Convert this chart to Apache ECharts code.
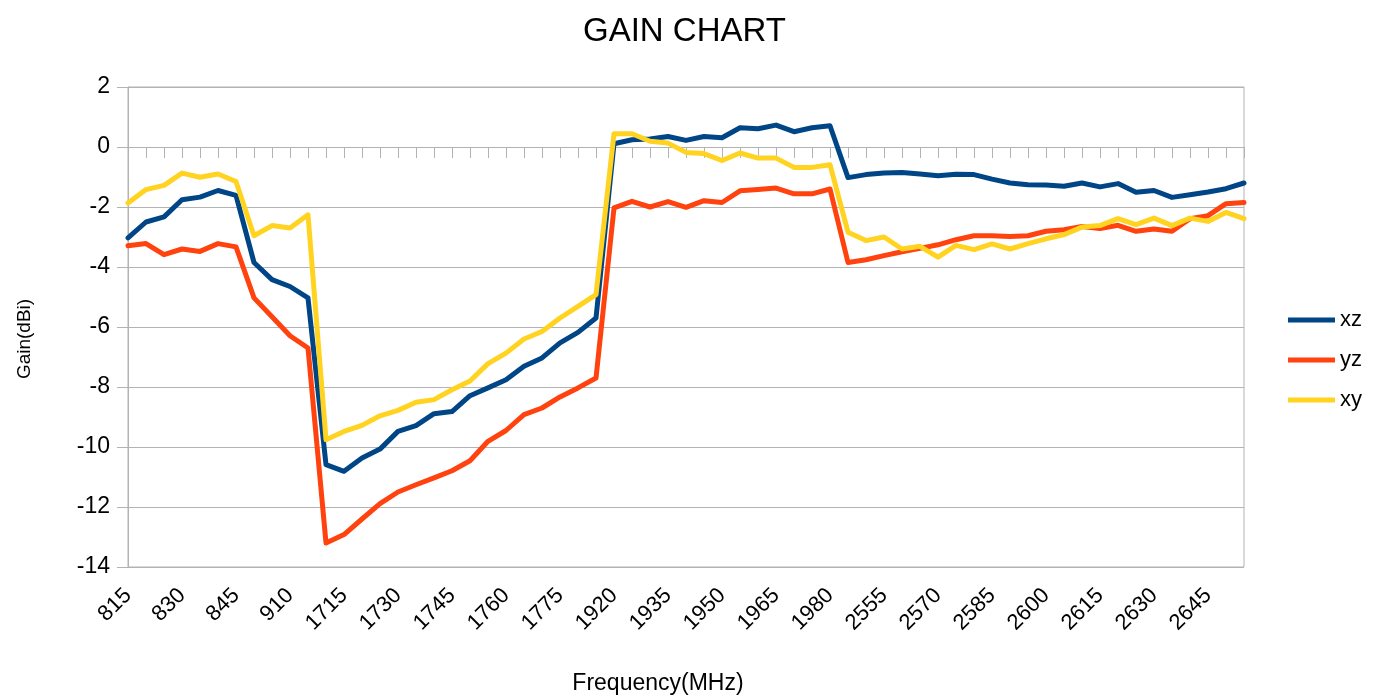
<!DOCTYPE html>
<html>
<head>
<meta charset="utf-8">
<title>GAIN CHART</title>
<script src="https://cdn.jsdelivr.net/npm/echarts@6/dist/echarts.min.js"></script>
<style>
    html, body { margin: 0; padding: 0; background: #fff; }
    #chart { width: 1383px; height: 697px; }
</style>
</head>
<body>
<div id="chart"></div>
<script>
// frequencies (MHz), one per measured point
const freqs = [
    '815', '820', '825', '830', '835', '840', '845', '900', '905', '910', '915',
    '1710', '1715', '1720', '1725', '1730', '1735', '1740', '1745', '1750', '1755',
    '1760', '1765', '1770', '1775', '1780', '1785',
    '1920', '1925', '1930', '1935', '1940', '1945', '1950', '1955', '1960', '1965',
    '1970', '1975', '1980',
    '2545', '2550', '2555', '2560', '2565', '2570', '2575', '2580', '2585', '2590',
    '2595', '2600', '2605', '2610', '2615', '2620', '2625', '2630', '2635', '2640',
    '2645', '2650', '2655'
];

const xz = [
    -3.03, -2.50, -2.33, -1.76, -1.67, -1.45, -1.61, -3.85, -4.42, -4.65, -5.03,
    -10.59, -10.81, -10.37, -10.07, -9.48, -9.29, -8.89, -8.82, -8.29, -8.03,
    -7.76, -7.31, -7.03, -6.53, -6.18, -5.70,
    0.11, 0.24, 0.27, 0.35, 0.22, 0.35, 0.31, 0.64, 0.61, 0.73,
    0.51, 0.64, 0.71,
    -1.02, -0.92, -0.87, -0.85, -0.90, -0.96, -0.91, -0.92, -1.07, -1.20,
    -1.26, -1.27, -1.31, -1.20, -1.33, -1.22, -1.51, -1.45, -1.68, -1.59,
    -1.50, -1.39, -1.20
];

const yz = [
    -3.29, -3.22, -3.59, -3.40, -3.48, -3.22, -3.33, -5.03, -5.66, -6.29, -6.70,
    -13.20, -12.92, -12.40, -11.89, -11.50, -11.26, -11.03, -10.79, -10.46, -9.81,
    -9.45, -8.92, -8.70, -8.33, -8.03, -7.70,
    -2.03, -1.81, -2.00, -1.82, -2.01, -1.79, -1.85, -1.46, -1.42, -1.37,
    -1.56, -1.56, -1.40,
    -3.85, -3.76, -3.62, -3.49, -3.38, -3.26, -3.09, -2.96, -2.96, -2.98,
    -2.96, -2.81, -2.76, -2.65, -2.72, -2.61, -2.81, -2.73, -2.81, -2.39,
    -2.29, -1.89, -1.85
];

const xy = [
    -1.87, -1.42, -1.28, -0.87, -1.01, -0.90, -1.15, -2.96, -2.62, -2.70, -2.26,
    -9.76, -9.48, -9.28, -8.96, -8.78, -8.51, -8.42, -8.09, -7.80, -7.22,
    -6.87, -6.40, -6.15, -5.70, -5.31, -4.92,
    0.44, 0.44, 0.19, 0.13, -0.18, -0.22, -0.45, -0.20, -0.37, -0.37,
    -0.68, -0.68, -0.59,
    -2.84, -3.12, -3.00, -3.40, -3.31, -3.67, -3.28, -3.42, -3.23, -3.40,
    -3.22, -3.06, -2.92, -2.67, -2.62, -2.39, -2.59, -2.37, -2.62, -2.37,
    -2.48, -2.18, -2.39
];

const seriesNames = ['xz', 'yz', 'xy'];
const colors = ['#004586', '#ff420e', '#ffd320'];

const FONT = '"Liberation Sans", Arial, sans-serif';
const GRID_COLOR = '#b3b3b3';

const chart = echarts.init(document.getElementById('chart'));

function lineSeries(name, data) {
    return {
        name: name,
        type: 'line',
        data: data,
        symbol: 'none',
        smooth: false,
        lineStyle: { width: 5, cap: 'round', join: 'round' }
    };
}

const option = {
    backgroundColor: '#fff',
    color: colors,
    animation: false,
    textStyle: { fontFamily: FONT },
    title: {
        text: 'GAIN CHART',
        left: 578,
        top: 10,
        textStyle: { fontFamily: FONT, fontSize: 33, fontWeight: 'normal', color: '#000' }
    },
    legend: {
        orient: 'vertical',
        left: 1283,
        top: 304,
        icon: 'rect',
        itemWidth: 47,
        itemHeight: 5,
        itemGap: 18,
        data: seriesNames,
        textStyle: { fontFamily: FONT, fontSize: 22, lineHeight: 22, color: '#000' }
    },
    grid: {
        left: 128,
        right: 139,
        top: 87,
        bottom: 130,
        outerBoundsMode: 'none',
        show: true,
        borderColor: GRID_COLOR,
        borderWidth: 1,
        backgroundColor: 'transparent'
    },
    xAxis: [
        {
            // sits on the zero line, only draws the short ticks
            type: 'category',
            data: freqs,
            position: 'top',
            boundaryGap: false,
            axisLine: { show: true, onZero: true, lineStyle: { color: GRID_COLOR, width: 1 } },
            axisTick: { show: true, inside: true, length: 11, interval: 0, lineStyle: { color: GRID_COLOR } },
            axisLabel: { show: false },
            splitLine: { show: false }
        },
        {
            type: 'category',
            data: freqs,
            position: 'bottom',
            boundaryGap: false,
            axisLine: { show: false, onZero: false },
            axisTick: { show: false },
            axisLabel: {
                interval: 2,
                rotate: 45,
                margin: 25,
                fontFamily: FONT,
                fontSize: 22,
                color: '#000'
            },
            splitLine: { show: false },
            name: 'Frequency(MHz)',
            nameLocation: 'middle',
            nameGap: 105,
            nameTextStyle: { fontFamily: FONT, fontSize: 23, color: '#000', padding: [0, 56, 0, 0] }
        }
    ],
    yAxis: {
        type: 'value',
        min: -14,
        max: 2,
        interval: 2,
        axisLine: { show: true, lineStyle: { color: GRID_COLOR } },
        axisTick: { show: true, length: 11, lineStyle: { color: GRID_COLOR } },
        axisLabel: { margin: 18, fontFamily: FONT, fontSize: 23, color: '#000' },
        splitLine: { show: true, lineStyle: { color: GRID_COLOR, width: 1 } },
        name: 'Gain(dBi)',
        nameLocation: 'middle',
        nameGap: 94,
        nameTextStyle: { fontFamily: FONT, fontSize: 19, color: '#000', padding: [0, 24, 0, 0] }
    },
    series: [
        lineSeries(seriesNames[0], xz),
        lineSeries(seriesNames[1], yz),
        lineSeries(seriesNames[2], xy)
    ]
};

chart.setOption(option);
</script>
</body>
</html>
